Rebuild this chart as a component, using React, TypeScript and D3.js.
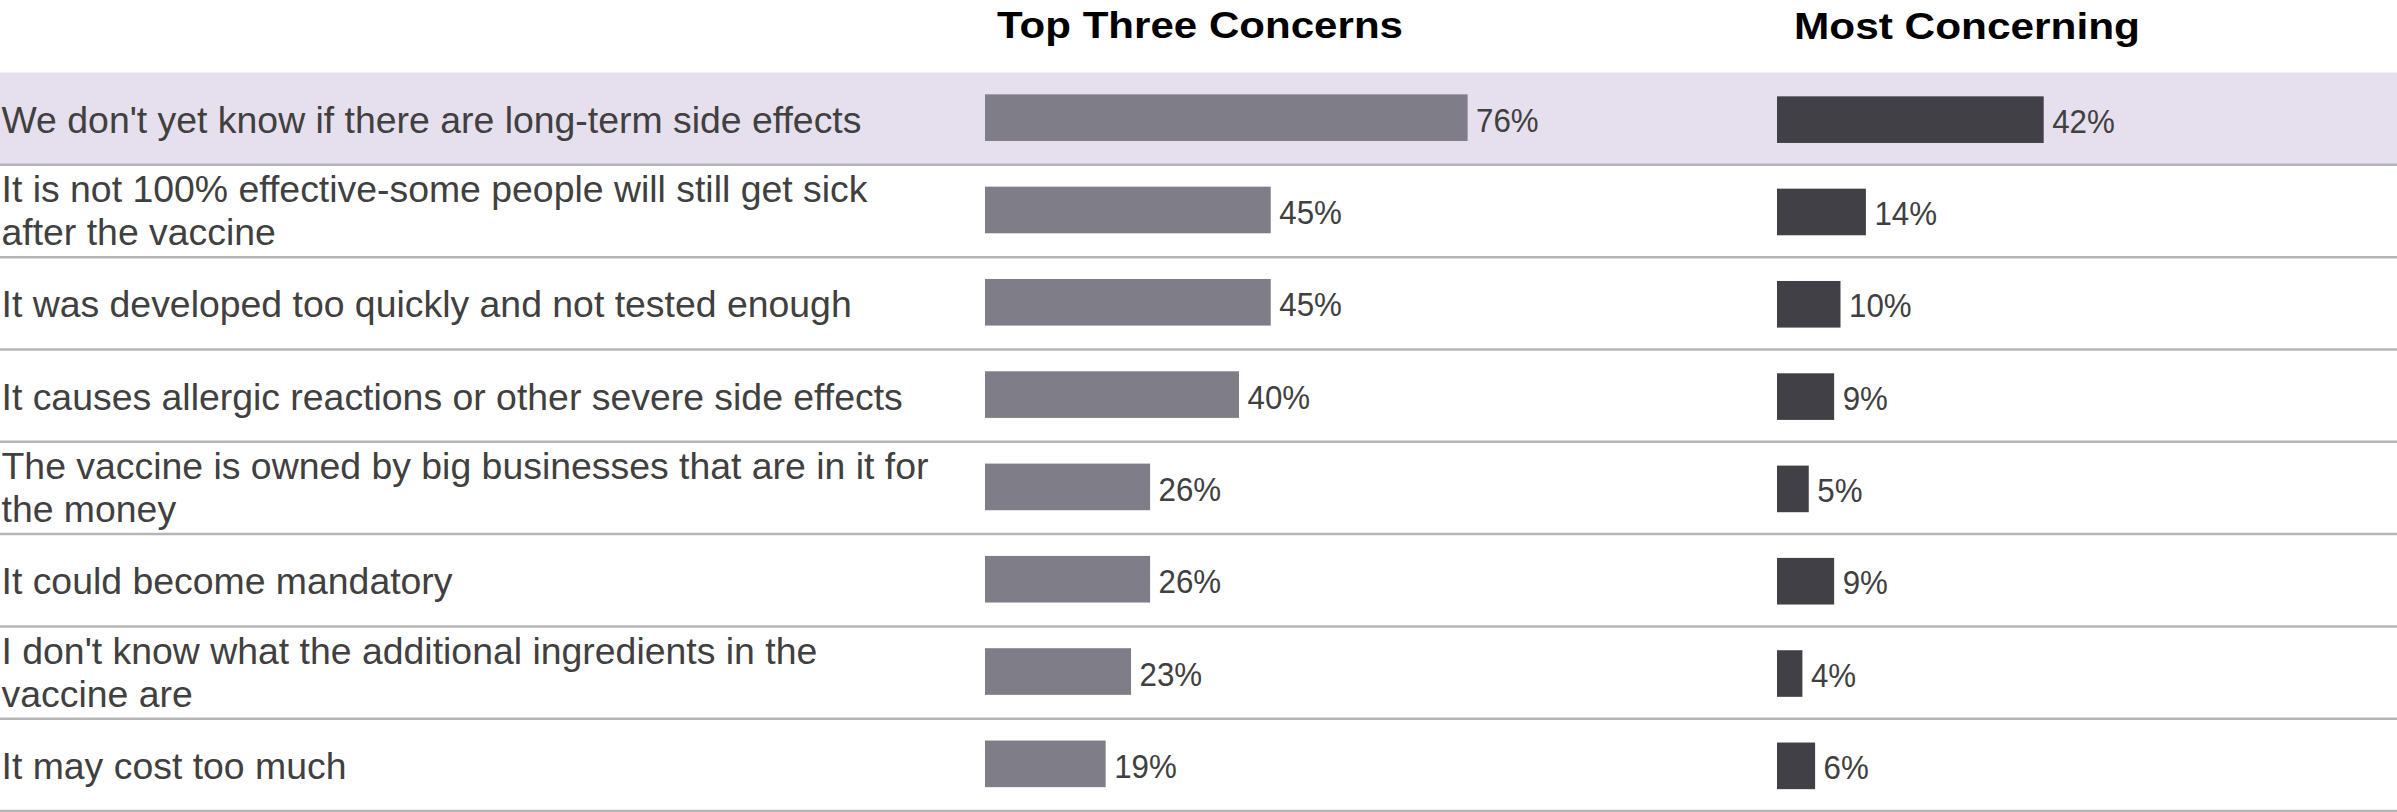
import React from "react";
import * as d3 from "d3";

const categories: string[][] = [
  ["We don't yet know if there are long-term side effects"],
  ["It is not 100% effective-some people will still get sick", "after the vaccine"],
  ["It was developed too quickly and not tested enough"],
  ["It causes allergic reactions or other severe side effects"],
  ["The vaccine is owned by big businesses that are in it for", "the money"],
  ["It could become mandatory"],
  ["I don't know what the additional ingredients in the", "vaccine are"],
  ["It may cost too much"],
];
const topThree: number[] = [76, 45, 45, 40, 26, 26, 23, 19];
const mostConcerning: number[] = [42, 14, 10, 9, 5, 9, 4, 6];
const columnTitles: string[] = ["Top Three Concerns", "Most Concerning"];
const highlightIndex = 0;

const W = 2397;
const H = 812;
const FONT = "'Liberation Sans', Arial, Helvetica, sans-serif";

export default function App() {
  const ids = categories.map((_, i) => String(i));
  const y = d3.scaleBand<string>().domain(ids).range([72.5, 811]).paddingInner(0).paddingOuter(0);
  const bw = y.bandwidth();
  const barH = bw * 0.505;
  const x1 = d3.scaleLinear().domain([0, 100]).range([985, 985 + 635]);
  const x2 = d3.scaleLinear().domain([0, 100]).range([1777, 1777 + 635]);

  const pctFs = 34;
  const pctLen = (v: number) => {
    const s = String(v);
    return (0.556 * s.length + 0.889) * pctFs * 0.92;
  };
  const labelFs = 37.4;

  return (
    <svg
      width={W}
      height={H}
      style={{ position: "absolute", left: 0, top: 0, background: "#ffffff" }}
      fontFamily={FONT}
    >
      <rect x={0} y={0} width={W} height={H} fill="#ffffff" />
      <rect
        x={0}
        y={y(ids[highlightIndex])!}
        width={W}
        height={bw}
        fill="#e6dfed"
      />
      <text
        x={x1(0) + 12}
        y={38}
        fontSize={37}
        fontWeight="bold"
        fill="#000"
        textLength={406}
        lengthAdjust="spacingAndGlyphs"
      >
        {columnTitles[0]}
      </text>
      <text
        x={x2(0) + 17}
        y={38.5}
        fontSize={37}
        fontWeight="bold"
        fill="#000"
        textLength={346}
        lengthAdjust="spacingAndGlyphs"
      >
        {columnTitles[1]}
      </text>
      {ids.map((id, i) => {
        const top = y(id)!;
        const c = top + bw / 2;
        const lines = categories[i];
        const v1 = topThree[i];
        const v2 = mostConcerning[i];
        return (
          <g key={id}>
            <line x1={0} x2={W} y1={top + bw} y2={top + bw} stroke="#b5b5b5" strokeWidth={2.5} />
            {lines.length === 1 ? (
              <text x={1.5} y={c + 14} fontSize={labelFs} fill="#404040">
                {lines[0]}
              </text>
            ) : (
              <text fontSize={labelFs} fill="#404040">
                <tspan x={1.5} y={c - 8.5}>{lines[0]}</tspan>
                <tspan x={1.5} y={c + 34}>{lines[1]}</tspan>
              </text>
            )}
            <rect
              x={x1(0)}
              y={c - barH / 2 - 1}
              width={x1(v1) - x1(0)}
              height={barH}
              fill="#7e7d88"
            />
            <text
              x={x1(v1) + 8.5}
              y={c + 13}
              fontSize={pctFs}
              fill="#404040"
              textLength={pctLen(v1)}
              lengthAdjust="spacingAndGlyphs"
            >
              {v1 + "%"}
            </text>
            <rect
              x={x2(0)}
              y={c - barH / 2 + 1}
              width={x2(v2) - x2(0)}
              height={barH}
              fill="#414046"
            />
            <text
              x={x2(v2) + 8.5}
              y={c + 14}
              fontSize={pctFs}
              fill="#404040"
              textLength={pctLen(v2)}
              lengthAdjust="spacingAndGlyphs"
            >
              {v2 + "%"}
            </text>
          </g>
        );
      })}
    </svg>
  );
}
